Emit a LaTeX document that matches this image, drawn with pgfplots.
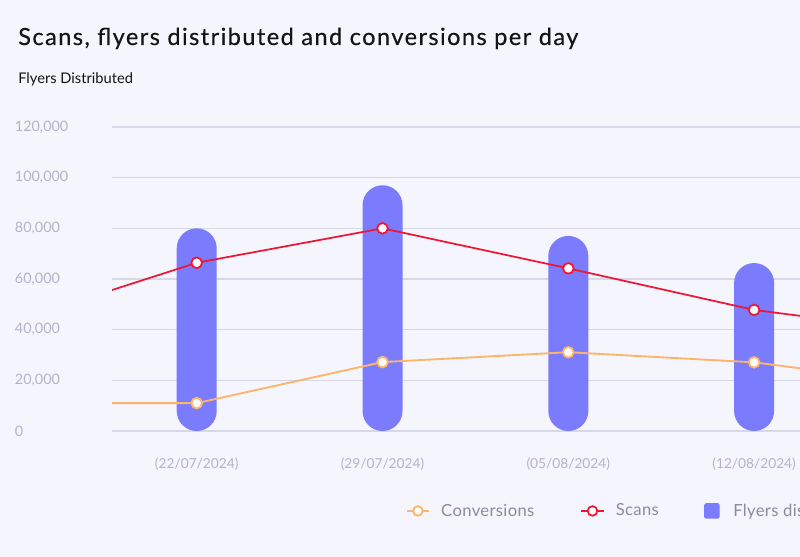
\documentclass[border=0pt]{standalone}
\usepackage{fontspec}
\setmainfont{Lato}
\usepackage{pgfplots}
\pgfplotsset{compat=1.18}
\definecolor{bg}{HTML}{F5F5FD}
\definecolor{barc}{HTML}{7B7BFD}
\definecolor{scanc}{HTML}{EE1535}
\definecolor{convc}{HTML}{FDB46B}
\definecolor{gridc}{HTML}{D7D7E7}
\definecolor{tickc}{HTML}{B3B3CB}
\definecolor{legc}{HTML}{8B8B9F}
\definecolor{titlec}{HTML}{141414}
\begin{document}
\begin{tikzpicture}
\useasboundingbox (0,0) rectangle (600pt,417.75pt);
\fill[bg] (0,0) rectangle (600pt,417.75pt);
\clip (0,0) rectangle (600pt,417.75pt);
\node[anchor=base west, inner sep=0pt, text=titlec, font=\fontsize{17.7}{20}\selectfont\addfontfeatures{LetterSpace=6,FakeBold=0.3}] at (13.5pt,384pt) {Scans, flyers distributed and conversions per day};
\node[anchor=base west, inner sep=0pt, text=titlec, font=\fontsize{11}{13}\selectfont] at (13.5pt,354.75pt) {Flyers Distributed};
\begin{axis}[
  at={(84pt,94.5pt)}, anchor=south west,
  scale only axis, width=516pt, height=228pt,
  xmin=-0.456, xmax=3.247, ymin=0, ymax=120000,
  xtick={0,1,2,3},
  xticklabels={(22/07/2024),(29/07/2024),(05/08/2024),(12/08/2024)},
  ytick={0,20000,40000,60000,80000,100000,120000},
  yticklabels={0,{20,000},{40,000},{60,000},{80,000},{100,000},{120,000}},
  scaled y ticks=false,
  major tick length=0pt,
  axis line style={draw=none},
  ymajorgrids,
  grid style={gridc, line width=0.8pt},
  tick label style={text=tickc, font=\fontsize{10.3}{12}\selectfont},
  yticklabel style={anchor=west, inner sep=0pt, xshift=-73pt, font=\fontsize{10.8}{12}\selectfont},
  xticklabel style={anchor=north, inner sep=0pt, yshift=-20pt},
  clip marker paths=true,
  legend style={at={(0.420,-0.263)}, anchor=west, draw=none, fill=none,
    font=\fontsize{12.5}{14}\selectfont\addfontfeatures{LetterSpace=2}, text=legc, legend columns=3,
    /tikz/every odd column/.append style={column sep=6pt},
    /tikz/every even column/.append style={column sep=32pt}},
  legend cell align=left,
  legend image code/.code={\draw[#1, line width=2pt, mark repeat=2, mark phase=2, mark size=3.6pt] plot coordinates {(0pt,0pt) (8.5pt,0pt) (17pt,0pt)};},
]
\addplot[ybar, bar width=30pt, fill=barc, draw=none, rounded corners=15pt, forget plot]
  coordinates {(0,80000) (1,97000) (2,77000) (3,66300)};
\addplot[convc, line width=1.4pt, mark=*, mark size=4pt, mark options={fill=white, draw=convc, line width=1.4pt}]
  coordinates {(-1,11000) (0,11000) (1,27200) (2,31100) (3,27100) (4,17600)};
\addlegendentry{Conversions}
\addplot[scanc, line width=1.3pt, mark=*, mark size=4pt, mark options={fill=white, draw=scanc, line width=1.3pt}]
  coordinates {(-1,42800) (0,66400) (1,80000) (2,64200) (3,47800) (4,38300)};
\addlegendentry{Scans}
\addlegendimage{area legend, draw=none, legend image code/.code={\fill[barc, draw=none, rounded corners=1.5pt] (0pt,-5.8pt) rectangle (11.6pt,5.8pt); \path[draw=none, fill=none] (0pt,0pt) rectangle (13.8pt,0.1pt);}}
\addlegendentry{Flyers distributed}
\end{axis}
\end{tikzpicture}
\end{document}
